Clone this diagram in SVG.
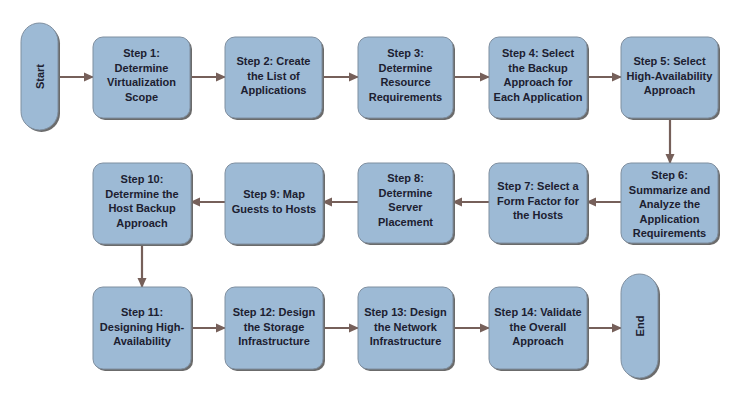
<svg xmlns="http://www.w3.org/2000/svg" width="747" height="404" viewBox="0 0 747 404">
<style>
.sh{fill:#6b6b6b}
.bx{fill:#9dbad5;stroke:#7f8fa0;stroke-width:1}
.t{font-family:"Liberation Sans",Arial,sans-serif;font-weight:bold;font-size:11px;fill:#1c2030;text-anchor:middle}
.c{stroke:#76605a;stroke-width:2.2;fill:none;marker-end:url(#ah)}
</style>
<defs>
<marker id="ah" markerWidth="10" markerHeight="10" refX="9" refY="5" orient="auto" markerUnits="userSpaceOnUse">
<path d="M0,0.5 L10,5 L0,9.5 Z" fill="#76605a"/>
</marker>
</defs>
<rect width="747" height="404" fill="#ffffff"/>
<g id="connectors">
<line class="c" x1="58" y1="77" x2="93" y2="77"/>
<line class="c" x1="191" y1="77" x2="225" y2="77"/>
<line class="c" x1="322" y1="77" x2="358" y2="77"/>
<line class="c" x1="453" y1="77" x2="489" y2="77"/>
<line class="c" x1="587" y1="77" x2="621" y2="77"/>
<line class="c" x1="670" y1="118" x2="670" y2="163"/>
<line class="c" x1="621" y1="202" x2="587" y2="202"/>
<line class="c" x1="489" y1="202" x2="453" y2="202"/>
<line class="c" x1="358" y1="202" x2="323" y2="202"/>
<line class="c" x1="225" y1="202" x2="191" y2="202"/>
<line class="c" x1="142" y1="244" x2="142" y2="287"/>
<line class="c" x1="191" y1="328" x2="225" y2="328"/>
<line class="c" x1="323" y1="328" x2="358" y2="328"/>
<line class="c" x1="453" y1="328" x2="489" y2="328"/>
<line class="c" x1="587" y1="328" x2="621" y2="328"/>
</g>
<g id="start">
<rect class="sh" x="23" y="25" width="37" height="107" rx="18.5"/>
<rect class="bx" x="21" y="23" width="37" height="107" rx="18.5"/>
<text class="t" transform="translate(43.5,76.5) rotate(-90)">Start</text>
</g>
<g id="step1">
<rect class="sh" x="95" y="39" width="97" height="81" rx="10"/>
<rect class="bx" x="93" y="37" width="97" height="81" rx="10"/>
<text class="t" x="141.5" y="57">Step 1:</text>
<text class="t" x="141.5" y="71.5">Determine</text>
<text class="t" x="141.5" y="86">Virtualization</text>
<text class="t" x="141.5" y="100.5">Scope</text>
</g>
<g id="step2">
<rect class="sh" x="227" y="39" width="97" height="81" rx="10"/>
<rect class="bx" x="225" y="37" width="97" height="81" rx="10"/>
<text class="t" x="273.5" y="65">Step 2: Create</text>
<text class="t" x="273.5" y="79.5">the List of</text>
<text class="t" x="273.5" y="94">Applications</text>
</g>
<g id="step3">
<rect class="sh" x="360" y="39" width="95" height="81" rx="10"/>
<rect class="bx" x="358" y="37" width="95" height="81" rx="10"/>
<text class="t" x="405.5" y="57">Step 3:</text>
<text class="t" x="405.5" y="71.5">Determine</text>
<text class="t" x="405.5" y="86">Resource</text>
<text class="t" x="405.5" y="100.5">Requirements</text>
</g>
<g id="step4">
<rect class="sh" x="491" y="39" width="98" height="81" rx="10"/>
<rect class="bx" x="489" y="37" width="98" height="81" rx="10"/>
<text class="t" x="538" y="57">Step 4: Select</text>
<text class="t" x="538" y="71.5">the Backup</text>
<text class="t" x="538" y="86">Approach for</text>
<text class="t" x="538" y="100.5">Each Application</text>
</g>
<g id="step5">
<rect class="sh" x="623" y="39" width="97" height="81" rx="10"/>
<rect class="bx" x="621" y="37" width="97" height="81" rx="10"/>
<text class="t" x="669.5" y="65">Step 5: Select</text>
<text class="t" x="669.5" y="79.5">High-Availability</text>
<text class="t" x="669.5" y="94">Approach</text>
</g>
<g id="step6">
<rect class="sh" x="623" y="165" width="97" height="80" rx="10"/>
<rect class="bx" x="621" y="163" width="97" height="80" rx="10"/>
<text class="t" x="669.5" y="179">Step 6:</text>
<text class="t" x="669.5" y="193.5">Summarize and</text>
<text class="t" x="669.5" y="208">Analyze the</text>
<text class="t" x="669.5" y="222.5">Application</text>
<text class="t" x="669.5" y="237">Requirements</text>
</g>
<g id="step7">
<rect class="sh" x="491" y="165" width="98" height="80" rx="10"/>
<rect class="bx" x="489" y="163" width="98" height="80" rx="10"/>
<text class="t" x="538" y="190">Step 7: Select a</text>
<text class="t" x="538" y="204.5">Form Factor for</text>
<text class="t" x="538" y="219">the Hosts</text>
</g>
<g id="step8">
<rect class="sh" x="360" y="165" width="95" height="80" rx="10"/>
<rect class="bx" x="358" y="163" width="95" height="80" rx="10"/>
<text class="t" x="405.5" y="182">Step 8:</text>
<text class="t" x="405.5" y="196.5">Determine</text>
<text class="t" x="405.5" y="211">Server</text>
<text class="t" x="405.5" y="225.5">Placement</text>
</g>
<g id="step9">
<rect class="sh" x="227" y="165" width="98" height="81" rx="10"/>
<rect class="bx" x="225" y="163" width="98" height="81" rx="10"/>
<text class="t" x="274" y="198">Step 9: Map</text>
<text class="t" x="274" y="212.5">Guests to Hosts</text>
</g>
<g id="step10">
<rect class="sh" x="95" y="165" width="98" height="81" rx="10"/>
<rect class="bx" x="93" y="163" width="98" height="81" rx="10"/>
<text class="t" x="142" y="183">Step 10:</text>
<text class="t" x="142" y="197.5">Determine the</text>
<text class="t" x="142" y="212">Host Backup</text>
<text class="t" x="142" y="226.5">Approach</text>
</g>
<g id="step11">
<rect class="sh" x="95" y="289" width="98" height="82" rx="10"/>
<rect class="bx" x="93" y="287" width="98" height="82" rx="10"/>
<text class="t" x="142" y="316">Step 11:</text>
<text class="t" x="142" y="330.5">Designing High-</text>
<text class="t" x="142" y="345">Availability</text>
</g>
<g id="step12">
<rect class="sh" x="227" y="289" width="98" height="82" rx="10"/>
<rect class="bx" x="225" y="287" width="98" height="82" rx="10"/>
<text class="t" x="274" y="316">Step 12: Design</text>
<text class="t" x="274" y="330.5">the Storage</text>
<text class="t" x="274" y="345">Infrastructure</text>
</g>
<g id="step13">
<rect class="sh" x="360" y="289" width="95" height="82" rx="10"/>
<rect class="bx" x="358" y="287" width="95" height="82" rx="10"/>
<text class="t" x="405.5" y="316">Step 13: Design</text>
<text class="t" x="405.5" y="330.5">the Network</text>
<text class="t" x="405.5" y="345">Infrastructure</text>
</g>
<g id="step14">
<rect class="sh" x="491" y="289" width="98" height="82" rx="10"/>
<rect class="bx" x="489" y="287" width="98" height="82" rx="10"/>
<text class="t" x="538" y="316">Step 14: Validate</text>
<text class="t" x="538" y="330.5">the Overall</text>
<text class="t" x="538" y="345">Approach</text>
</g>
<g id="end">
<rect class="sh" x="623" y="276" width="37" height="104" rx="18.5"/>
<rect class="bx" x="621" y="274" width="37" height="104" rx="18.5"/>
<text class="t" transform="translate(643.5,326) rotate(-90)">End</text>
</g>
</svg>
